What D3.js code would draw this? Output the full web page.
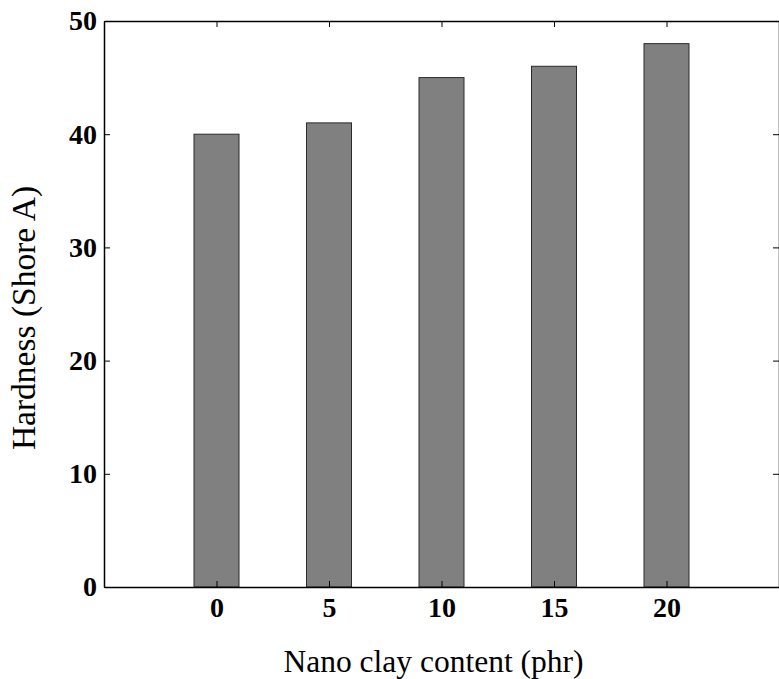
<!DOCTYPE html>
<html><head><meta charset="utf-8">
<script src="https://cdn.jsdelivr.net/npm/d3@7"></script>
<style>body{margin:0;background:#fff}svg{display:block}</style>
</head><body>
<svg id="c" width="779" height="679"></svg>
<script>
const categories = [0, 5, 10, 15, 20];
const hardness = [40, 41, 45, 46, 48];
const yTicks = [0, 10, 20, 30, 40, 50];
const xLabel = "Nano clay content (phr)";
const yLabel = "Hardness (Shore A)";

const svg = d3.select("#c");
const L = 104, R = 779, T = 21, B = 587;
const x = d3.scaleLinear().domain([-5, 25]).range([L, R]);
const y = d3.scaleLinear().domain([0, 50]).range([B, T]);
const font = "'Liberation Serif','Times New Roman',serif";

// bars
svg.selectAll("rect.bar").data(categories).enter().append("rect")
  .attr("x", d => x(d - 1)).attr("width", x(1) - x(-1))
  .attr("y", (d, i) => y(hardness[i])).attr("height", (d, i) => y(0) - y(hardness[i]))
  .attr("fill", "#808080").attr("stroke", "#2a2a2a").attr("stroke-width", 1);

const tl = 6;
const yAxisL = d3.axisLeft(y).tickValues(yTicks).tickSizeInner(-tl).tickSizeOuter(0).tickPadding(7);
svg.append("g").attr("transform", `translate(${L},0)`).call(yAxisL);
const yAxisR = d3.axisRight(y).tickValues(yTicks).tickSizeInner(-tl).tickSizeOuter(0).tickFormat("");
svg.append("g").attr("transform", `translate(${R},0)`).call(yAxisR);
const xAxisB = d3.axisBottom(x).tickValues(categories).tickSizeInner(-tl).tickSizeOuter(0).tickPadding(10);
svg.append("g").attr("transform", `translate(0,${B})`).call(xAxisB);
const xAxisT = d3.axisTop(x).tickValues(categories).tickSizeInner(-tl).tickSizeOuter(0).tickFormat("");
svg.append("g").attr("transform", `translate(0,${T})`).call(xAxisT);

svg.selectAll(".domain").attr("stroke", "#000").attr("stroke-width", 1.5);
svg.selectAll(".tick line").attr("stroke", "#000");
svg.selectAll(".tick text").attr("font-family", font).attr("font-size", 28).attr("font-weight", "bold").attr("fill", "#000");

svg.append("text").attr("x", (L + R) / 2 - 8).attr("y", 672).attr("text-anchor", "middle")
  .attr("font-family", font).attr("font-size", 31.5).text(xLabel);
svg.append("text").attr("transform", `translate(35,318) rotate(-90)`).attr("text-anchor", "middle")
  .attr("font-family", font).attr("font-size", 33.5).text(yLabel);
</script>
</body></html>
